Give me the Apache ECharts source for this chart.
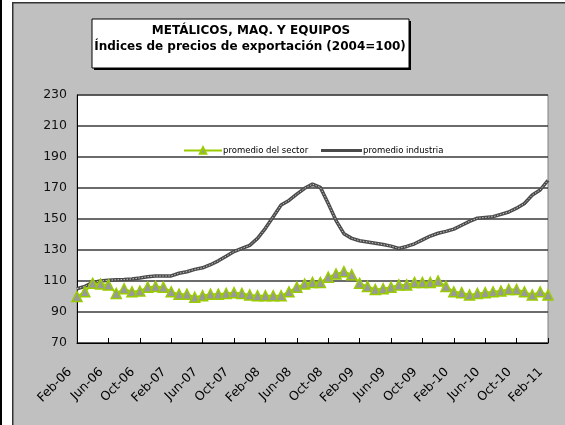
<!DOCTYPE html>
<html>
<head>
<meta charset="utf-8">
<script src="https://cdn.jsdelivr.net/npm/echarts@6/dist/echarts.min.js"></script>
<style>
  html, body { margin: 0; padding: 0; background: #fff; }
  #chart { width: 565px; height: 425px; }
</style>
</head>
<body>
<div id="chart"></div>
<script>
  // meses feb-06 .. feb-11
  var months = [
    'Feb-06', 'Mar-06', 'Apr-06', 'May-06', 'Jun-06', 'Jul-06', 'Aug-06', 'Sep-06', 'Oct-06', 'Nov-06', 'Dec-06',
    'Jan-07', 'Feb-07', 'Mar-07', 'Apr-07', 'May-07', 'Jun-07', 'Jul-07', 'Aug-07', 'Sep-07', 'Oct-07', 'Nov-07', 'Dec-07',
    'Jan-08', 'Feb-08', 'Mar-08', 'Apr-08', 'May-08', 'Jun-08', 'Jul-08', 'Aug-08', 'Sep-08', 'Oct-08', 'Nov-08', 'Dec-08',
    'Jan-09', 'Feb-09', 'Mar-09', 'Apr-09', 'May-09', 'Jun-09', 'Jul-09', 'Aug-09', 'Sep-09', 'Oct-09', 'Nov-09', 'Dec-09',
    'Jan-10', 'Feb-10', 'Mar-10', 'Apr-10', 'May-10', 'Jun-10', 'Jul-10', 'Aug-10', 'Sep-10', 'Oct-10', 'Nov-10', 'Dec-10',
    'Jan-11', 'Feb-11'
  ]

  var promedioSector = [
    100, 103, 108.5, 108, 107.5, 102, 105, 103, 103.5, 106, 106.5,
    106, 103, 101.5, 101.5, 99.5, 100.5, 101.5, 101.5, 102, 102.5, 102, 101,
    100.5, 100.5, 100.5, 100.5, 103, 106, 108, 109, 109, 112.5, 114.5, 116,
    114, 108.5, 106.5, 104.5, 105, 106, 107.5, 107.5, 109, 109, 109, 110,
    106.5, 103, 102.5, 101, 102, 102.5, 103, 103.5, 104.5, 104.5, 103, 101,
    103, 101
  ]

  var promedioIndustria = [
    105, 106.5, 109, 110, 110.5, 110.8, 111, 111.3, 112, 112.8, 113.2,
    113.2, 113.3, 115, 116, 117.5, 118.5, 120.5, 123, 126, 129, 131, 133,
    137.5, 144, 151.5, 159, 162, 166, 169.8, 172.5, 170.4, 160, 149, 140.5,
    137.5, 136, 135.2, 134.4, 133.5, 132.5, 131, 132.3, 134, 136.5, 139, 140.8,
    142, 143.5, 146, 148.5, 150.5, 151, 151.5, 153, 154.5, 157, 160, 165.5,
    168.7, 175
  ]

  var yMin = 70
  var yMax = 230
  var yStep = 20

  var chart = echarts.init(document.getElementById('chart'), null, { renderer: 'canvas' })

  var legendText = { fontFamily: 'DejaVu Sans', fontSize: 8.5, color: '#000', padding: [0, 0, 0, -4] }

  var option = {
    animation: false,
    backgroundColor: 'transparent',
    graphic: [
      // borde negro izquierdo
      { type: 'rect', left: 0, top: 0, z: -10, shape: { width: 2, height: 425 }, style: { fill: '#000' } },
      // fondo gris
      { type: 'rect', left: 12, top: 2, z: -10, shape: { width: 560, height: 430 }, style: { fill: '#c0c0c0', stroke: '#333', lineWidth: 1.5 } },
      // sombra y caja del titulo
      { type: 'rect', x: 94, y: 21, z: 10, shape: { width: 317, height: 49 }, style: { fill: '#000' } },
      { type: 'rect', x: 92, y: 19, z: 11, shape: { width: 317, height: 49 }, style: { fill: '#fff', stroke: '#000', lineWidth: 1 } },
      {
        type: 'text', x: 251, y: 31, z: 12,
        style: { text: 'METÁLICOS, MAQ. Y EQUIPOS', fill: '#000', font: 'bold 12px "DejaVu Sans"', align: 'center', verticalAlign: 'middle' }
      },
      {
        type: 'text', x: 250, y: 47, z: 12,
        style: { text: 'Índices de precios de exportación (2004=100)', fill: '#000', font: 'bold 12px "DejaVu Sans"', align: 'center', verticalAlign: 'middle' }
      }
    ],
    grid: {
      left: 77,
      right: 17,
      top: 95,
      bottom: 82,
      show: true,
      backgroundColor: '#fff',
      borderColor: '#808080',
      borderWidth: 1
    },
    legend: [
      {
        left: 178,
        top: 141,
        itemWidth: 38,
        itemHeight: 8,
        data: ['promedio del sector'],
        textStyle: legendText
      },
      {
        left: 316,
        top: 141,
        itemWidth: 41,
        itemHeight: 3,
        icon: 'rect',
        data: ['promedio industria'],
        textStyle: legendText
      }
    ],
    xAxis: {
      type: 'category',
      data: months,
      boundaryGap: false,
      axisLine: { lineStyle: { color: '#000', width: 1 } },
      axisTick: { inside: true, length: 5, interval: 3, lineStyle: { color: '#000' } },
      axisLabel: {
        interval: 3,
        rotate: 45,
        margin: 20,
        padding: [0, 10, 0, 0],
        fontFamily: 'DejaVu Sans',
        fontSize: 12.5,
        color: '#000'
      },
      splitLine: { show: false }
    },
    yAxis: {
      type: 'value',
      min: yMin,
      max: yMax,
      interval: yStep,
      axisLine: { show: true, lineStyle: { color: '#000', width: 1 } },
      axisTick: { show: false },
      axisLabel: { margin: 10, fontFamily: 'DejaVu Sans', fontSize: 12.5, color: '#111' },
      splitLine: { lineStyle: { color: '#3a3a3a', width: 1.5 } }
    },
    series: [
      {
        name: 'promedio industria',
        type: 'line',
        data: promedioIndustria,
        symbol: 'none',
        lineStyle: { color: '#4a4a4a', width: 3.5 },
        itemStyle: { color: '#4a4a4a' },
        z: 2
      },
      {
        // textura de la linea de industria
        name: 'industria-textura',
        type: 'line',
        data: promedioIndustria,
        symbol: 'none',
        silent: true,
        lineStyle: { color: '#c8c8c8', width: 1, type: [1.5, 1.5] },
        z: 3
      },
      {
        name: 'promedio del sector',
        type: 'line',
        data: promedioSector,
        symbol: 'triangle',
        symbolSize: 10,
        showAllSymbol: true,
        lineStyle: { color: '#99cc00', width: 2 },
        itemStyle: { color: '#999999', borderColor: '#99cc00', borderWidth: 1.5 },
        z: 4
      }
    ]
  }

  chart.setOption(option)
</script>
</body>
</html>
